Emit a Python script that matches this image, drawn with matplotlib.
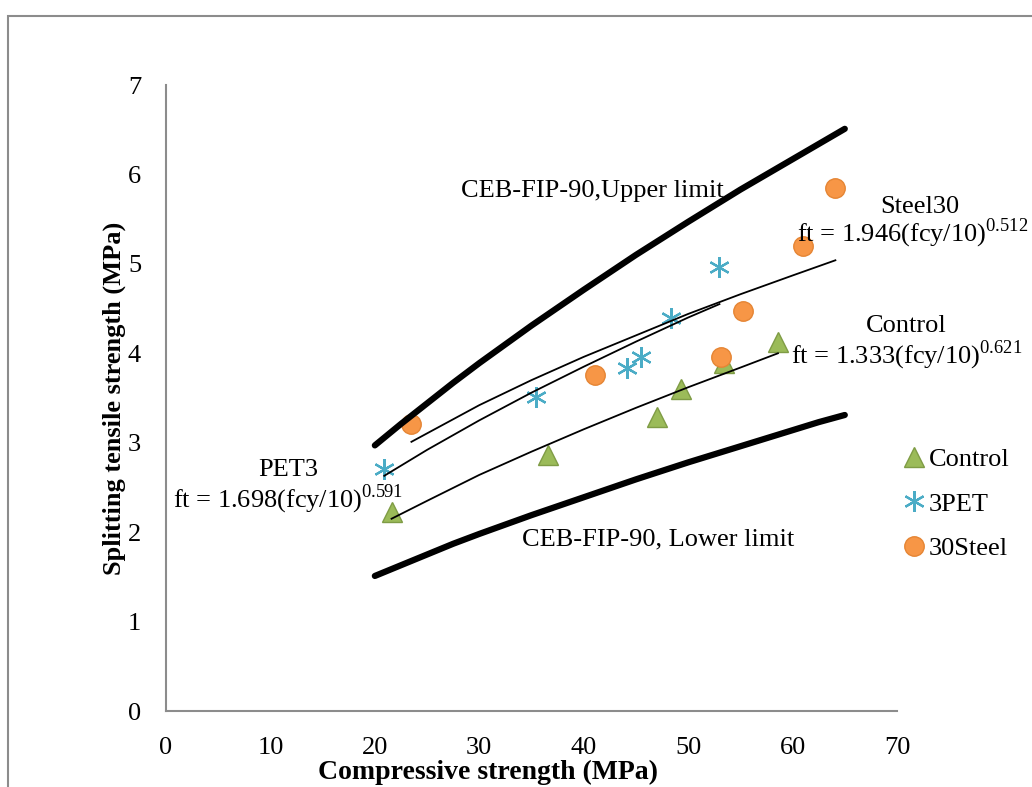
import numpy as np
import matplotlib
matplotlib.use('Agg')
import matplotlib.pyplot as plt
from matplotlib.patches import Rectangle

plt.rcParams['font.family'] = ['Liberation Serif', 'DejaVu Serif']
plt.rcParams['mathtext.fontset'] = 'custom'
plt.rcParams['mathtext.rm'] = 'Liberation Serif'

# measured points (compressive strength MPa, splitting tensile MPa)
control_x = [21.6, 36.6, 47.0, 49.3, 53.4, 58.6]
control_y = [2.23, 2.86, 3.29, 3.60, 3.89, 4.13]
pet_x = [20.9, 35.4, 44.1, 45.5, 48.4, 53.0]
pet_y = [2.71, 3.51, 3.83, 3.96, 4.40, 4.97]
steel_x = [23.5, 41.1, 53.1, 55.3, 61.0, 64.1]
steel_y = [3.21, 3.76, 3.96, 4.47, 5.20, 5.85]

# trend curves
control_fit_x = [21.6, 25, 30, 35, 40, 45, 50, 55, 58.6]
control_fit_y = [2.15, 2.35, 2.64, 2.90, 3.15, 3.39, 3.62, 3.84, 4.00]
pet_fit_x = [20.9, 25, 30, 35, 40, 45, 50, 53.0]
pet_fit_y = [2.63, 2.92, 3.25, 3.56, 3.85, 4.13, 4.40, 4.55]
steel_fit_x = [23.5, 30, 35, 40, 45, 50, 55, 60, 64.1]
steel_fit_y = [3.01, 3.42, 3.70, 3.96, 4.20, 4.44, 4.66, 4.87, 5.04]

# CEB-FIP-90 limits
ceb_x = [20, 22.5, 25, 27.5, 30, 35, 40, 45, 50, 55, 60, 62.5, 65]
ceb_upper = [2.97, 3.21, 3.44, 3.67, 3.89, 4.31, 4.71, 5.10, 5.47, 5.83, 6.17, 6.34, 6.51]
ceb_lower = [1.51, 1.63, 1.75, 1.87, 1.98, 2.19, 2.39, 2.59, 2.78, 2.96, 3.14, 3.23, 3.31]

W, H = 1032, 787
fig = plt.figure(figsize=(W / 100, H / 100), dpi=100)
ax = fig.add_axes([166 / W, 1 - 711 / H, (897 - 166) / W, (711 - 85) / H])

# outer frame of the chart area
fig.patches.append(Rectangle((8 / W, -0.01), 1.1, 1 - 16 / H + 0.01, transform=fig.transFigure,
                             fill=False, edgecolor='#8c8c8c', linewidth=1.5))

fs = 19
green = '#9BBB59'
teal = '#4BACC6'
orange = '#F79646'

ax.plot(control_x, control_y, linestyle='none', marker='^', ms=15, mfc=green,
        mec='#7f9c45', mew=1, label='Control', zorder=3)
ax.plot(pet_x, pet_y, linestyle='none', marker=(6, 2, 0), ms=15, mec=teal,
        mew=1.6, label='3PET', zorder=3)
ax.plot(steel_x, steel_y, linestyle='none', marker='o', ms=14, mfc=orange,
        mec='#e58534', mew=1, label='30Steel', zorder=3)

for fx, fy in [(control_fit_x, control_fit_y), (pet_fit_x, pet_fit_y), (steel_fit_x, steel_fit_y)]:
    ax.plot(fx, fy, color='black', lw=1.3, zorder=4)

ax.plot(ceb_x, ceb_upper, color='black', lw=4.5, solid_capstyle='round',
        solid_joinstyle='round', zorder=4)
ax.plot(ceb_x, ceb_lower, color='black', lw=4.5, solid_capstyle='round',
        solid_joinstyle='round', zorder=4)

ax.set_xlim(0, 70)
ax.set_ylim(0, 7)
ax.set_xticks(range(0, 71, 10))
ax.set_yticks(range(0, 8))
for s in ['top', 'right']:
    ax.spines[s].set_visible(False)
for s in ['left', 'bottom']:
    ax.spines[s].set_color('#8c8c8c')
    ax.spines[s].set_linewidth(1.5)
ax.tick_params(length=0, labelsize=fs)
ax.tick_params(axis='x', pad=19)
ax.tick_params(axis='y', pad=18)

ax.set_xlabel('Compressive strength (MPa)', fontsize=20, fontweight='bold')
ax.xaxis.set_label_coords((488 - 166) / 731, -0.078)
ax.set_ylabel('Splitting tensile strength (MPa)', fontsize=fs, fontweight='bold', labelpad=1)

# annotations
ax.text(40.8, 5.82, 'CEB-FIP-90,Upper limit', fontsize=fs, ha='center', va='center')
ax.text(47.1, 1.92, 'CEB-FIP-90, Lower limit', fontsize=fs, ha='center', va='center')
ax.text(72.2, 5.64, 'Steel30', fontsize=fs, ha='center', va='center')
ax.text(82.6, 5.34, r'ft = 1.946(fcy/10)$^{\mathrm{0.512}}$', fontsize=fs, ha='right', va='center')
ax.text(70.9, 4.31, 'Control', fontsize=fs, ha='center', va='center')
ax.text(70.9, 3.98, r'ft = 1.333(fcy/10)$^{\mathrm{0.621}}$', fontsize=fs, ha='center', va='center')
ax.text(11.7, 2.69, 'PET3', fontsize=fs, ha='center', va='center')
ax.text(11.7, 2.37, r'ft = 1.698(fcy/10)$^{\mathrm{0.591}}$', fontsize=fs, ha='center', va='center')

ax.legend(loc='upper left', bbox_to_anchor=(893 / W, 1 - 437 / H), bbox_transform=fig.transFigure,
          frameon=False, fontsize=fs, handlelength=0.8, handletextpad=0.15,
          labelspacing=0.8, borderaxespad=0)

fig.savefig('out.png', dpi=100)
